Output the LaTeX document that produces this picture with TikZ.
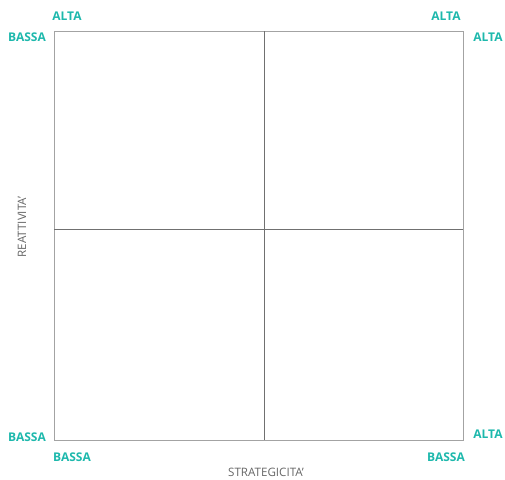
\documentclass[tikz,border=0pt]{standalone}
\usepackage{fontspec}
\setmainfont{Open Sans}
\definecolor{teal1}{HTML}{1DB8AC}
\definecolor{frame1}{HTML}{A3A3A3}
\definecolor{mid1}{HTML}{707070}
\definecolor{txt1}{HTML}{666666}
\begin{document}
\begin{tikzpicture}[x=1pt,y=-1pt,
  lab/.style={text=teal1,font=\fontsize{12}{14}\selectfont\bfseries,inner sep=0pt},
  axis/.style={text=txt1,font=\fontsize{11.6}{13}\selectfont,inner sep=0pt}]
\useasboundingbox (0,0) rectangle (505,479);
\coordinate (tl) at (54,31);
\coordinate (br) at (463,440);
\coordinate (tm) at (264,31);
\coordinate (bm) at (264,440);
\coordinate (lm) at (54,229);
\coordinate (rm) at (463,229);
\draw[frame1,line width=0.8pt] (tl) rectangle (br);
\draw[mid1,line width=0.7pt] (tm) -- (bm);
\draw[mid1,line width=0.5pt] (lm) -- (rm);
\node[lab] (a1) at (67,16) {ALTA};
\node[lab] (a2) at (446,16) {ALTA};
\node[lab] (b1) at (27,37) {BASSA};
\node[lab] (a3) at (488,37) {ALTA};
\node[lab] (b2) at (27,437) {BASSA};
\node[lab] (a4) at (488,434) {ALTA};
\node[lab] (b3) at (72,457) {BASSA};
\node[lab] (b4) at (446,457) {BASSA};
\node[axis] (sx) at (266,472) {STRATEGICITA'};
\node[axis,rotate=90] (sy) at (22,227) {REATTIVITA'};
\end{tikzpicture}
\end{document}
